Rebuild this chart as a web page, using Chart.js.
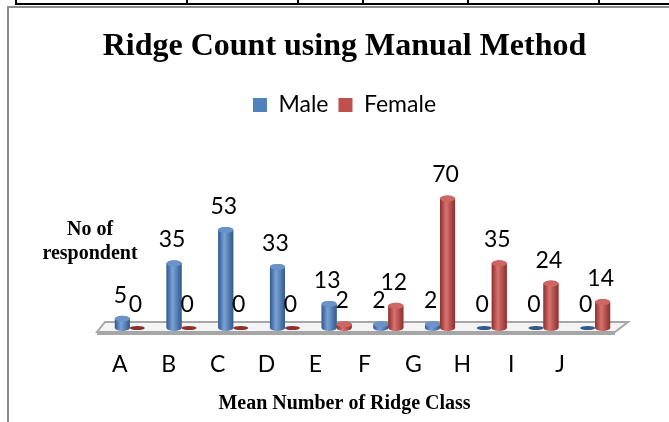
<!DOCTYPE html>
<html>
<head>
<meta charset="utf-8">
<script src="https://cdn.jsdelivr.net/npm/chart.js@4.4.0/dist/chart.umd.min.js"></script>
<style>
  html, body { margin: 0; padding: 0; background: #fff; }
  #wrap { position: relative; width: 669px; height: 422px; overflow: hidden; }
  #wrap canvas { position: absolute; left: 0; top: 0; }
  .ln { position: absolute; }
</style>
</head>
<body>
<div id="wrap">
  <!-- table border above the chart -->
  <div class="ln" style="left:15px;top:3px;width:660px;height:2px;background:#000"></div>
  <div class="ln" style="left:15px;top:0;width:2px;height:5px;background:#000"></div>
  <div class="ln" style="left:186px;top:0;width:2px;height:5px;background:#000"></div>
  <div class="ln" style="left:297px;top:0;width:2px;height:5px;background:#000"></div>
  <div class="ln" style="left:362px;top:0;width:2px;height:5px;background:#000"></div>
  <div class="ln" style="left:467px;top:0;width:2px;height:5px;background:#000"></div>
  <div class="ln" style="left:598px;top:0;width:2px;height:5px;background:#000"></div>
  <!-- chart frame -->
  <div class="ln" style="left:7px;top:6px;width:670px;height:2px;background:#8c8c8c"></div>
  <div class="ln" style="left:7px;top:6px;width:2px;height:420px;background:#8c8c8c"></div>
  <canvas id="chart"></canvas>
</div>
<script>
var categories = ['A', 'B', 'C', 'D', 'E', 'F', 'G', 'H', 'I', 'J'];
var male = [5, 35, 53, 33, 13, 2, 2, 0, 0, 0];
var female = [0, 0, 0, 0, 2, 12, 70, 35, 24, 14];

var BLUE = '#4f81bd', RED = '#c0504d';
var shades = {};
shades[BLUE] = { dark: '#30598c', light: '#7aa2d6', top: '#6b93c9' };
shades[RED] = { dark: '#8c2f2d', light: '#d9726f', top: '#cf6663' };

// floor plate under the bars
var floorPlugin = {
  id: 'floor',
  beforeDatasetsDraw: function (chart) {
    var a = chart.chartArea, ctx = chart.ctx, b = a.bottom;
    ctx.save();
    ctx.beginPath();
    ctx.moveTo(a.left + 1, b - 6);
    ctx.lineTo(a.right + 7, b - 6);
    ctx.lineTo(a.right - 6, b + 4);
    ctx.lineTo(a.left - 7, b + 4);
    ctx.closePath();
    ctx.fillStyle = '#f4f4f4';
    ctx.fill();
    ctx.lineWidth = 2;
    ctx.strokeStyle = '#a6a6a6';
    ctx.stroke();
    ctx.beginPath();
    ctx.moveTo(a.left - 7, b + 6);
    ctx.lineTo(a.right - 6, b + 6);
    ctx.stroke();
    ctx.restore();
  }
};

// cylinder shading, value labels, category labels, y title
var drawPlugin = {
  id: 'cyl',
  afterDatasetsDraw: function (chart) {
    var ctx = chart.ctx;
    ctx.save();
    chart.data.datasets.forEach(function (ds, di) {
      var meta = chart.getDatasetMeta(di);
      var s = shades[ds.backgroundColor];
      meta.data.forEach(function (el, i) {
        var p = el.getProps(['x', 'y', 'base', 'width'], true);
        var rx = p.width / 2, ry = 3;
        if (p.base - p.y < 1) {
          ctx.beginPath();
          ctx.ellipse(p.x, p.base, rx, 2, 0, 0, Math.PI * 2);
          ctx.fillStyle = s.dark;
          ctx.fill();
          return;
        }
        var g = ctx.createLinearGradient(p.x - rx, 0, p.x + rx, 0);
        g.addColorStop(0, s.dark);
        g.addColorStop(0.4, s.light);
        g.addColorStop(1, s.dark);
        ctx.beginPath();
        ctx.moveTo(p.x - rx, p.y);
        ctx.lineTo(p.x - rx, p.base);
        ctx.ellipse(p.x, p.base, rx, ry, 0, Math.PI, 0, true);
        ctx.lineTo(p.x + rx, p.y);
        ctx.ellipse(p.x, p.y, rx, ry, 0, 0, Math.PI, true);
        ctx.closePath();
        ctx.fillStyle = g;
        ctx.fill();
        ctx.beginPath();
        ctx.ellipse(p.x, p.y, rx, ry, 0, 0, Math.PI * 2);
        ctx.fillStyle = s.top;
        ctx.fill();
      });
    });
    // value labels
    ctx.font = '23px Lato';
    ctx.fillStyle = '#000';
    ctx.textAlign = 'center';
    ctx.textBaseline = 'bottom';
    chart.data.datasets.forEach(function (ds, di) {
      chart.getDatasetMeta(di).data.forEach(function (el, i) {
        ctx.fillText(String(ds.data[i]), el.x - 2, el.y - 12);
      });
    });
    ctx.restore();
  },
  afterDraw: function (chart) {
    var a = chart.chartArea, ctx = chart.ctx, xs = chart.scales.x;
    ctx.save();
    ctx.fillStyle = '#000';
    ctx.textAlign = 'center';
    ctx.textBaseline = 'middle';
    // category labels, pulled in slightly like the perspective floor
    ctx.font = '23px Lato';
    categories.forEach(function (c, i) {
      var px = xs.getPixelForValue(i);
      var xl = a.left + 16 + (px - a.left - 26) * 0.946;
      ctx.fillText(c, xl, a.bottom + 37);
    });
    ctx.font = 'bold 20px "Liberation Serif"';
    ctx.fillText('No of', a.left - 14, a.bottom - 98);
    ctx.fillText('respondent', a.left - 14, a.bottom - 74);
    ctx.restore();
  }
};

new Chart(document.getElementById('chart'), {
  type: 'bar',
  data: {
    labels: categories,
    datasets: [
      { label: 'Male', data: male, backgroundColor: BLUE },
      { label: 'Female', data: female, backgroundColor: RED }
    ]
  },
  options: {
    responsive: true,
    maintainAspectRatio: false,
    animation: false,
    events: [],
    layout: { padding: { left: 20, right: 0, top: 8, bottom: 3 } },
    datasets: { bar: { categoryPercentage: 0.58, barPercentage: 1 } },
    scales: {
      x: {
        grid: { display: false, drawTicks: false },
        border: { display: false },
        ticks: { display: false },
        afterFit: function (s) { s.height = 64; }
      },
      y: {
        min: 0, max: 109,
        grid: { display: false, drawTicks: false },
        border: { display: false },
        ticks: { display: false },
        afterFit: function (s) { s.width = 84; }
      },
      y2: {
        position: 'right',
        min: 0, max: 1,
        grid: { display: false, drawTicks: false },
        border: { display: false },
        ticks: { display: false },
        afterFit: function (s) { s.width = 48; }
      }
    },
    plugins: {
      tooltip: { enabled: false },
      title: {
        display: true,
        text: 'Ridge Count using Manual Method',
        color: '#000',
        font: { family: '"Liberation Serif"', size: 32, weight: 'bold' },
        padding: { top: 20, bottom: 17 }
      },
      subtitle: {
        display: true,
        position: 'bottom',
        text: 'Mean Number of Ridge Class',
        color: '#000',
        font: { family: '"Liberation Serif"', size: 20, weight: 'bold' },
        padding: { top: 0, bottom: 3 }
      },
      legend: {
        position: 'top',
        labels: {
          color: '#000',
          boxWidth: 14,
          boxHeight: 14,
          font: { family: 'Lato', size: 23 }
        }
      }
    }
  },
  plugins: [floorPlugin, drawPlugin]
});
</script>
</body>
</html>
